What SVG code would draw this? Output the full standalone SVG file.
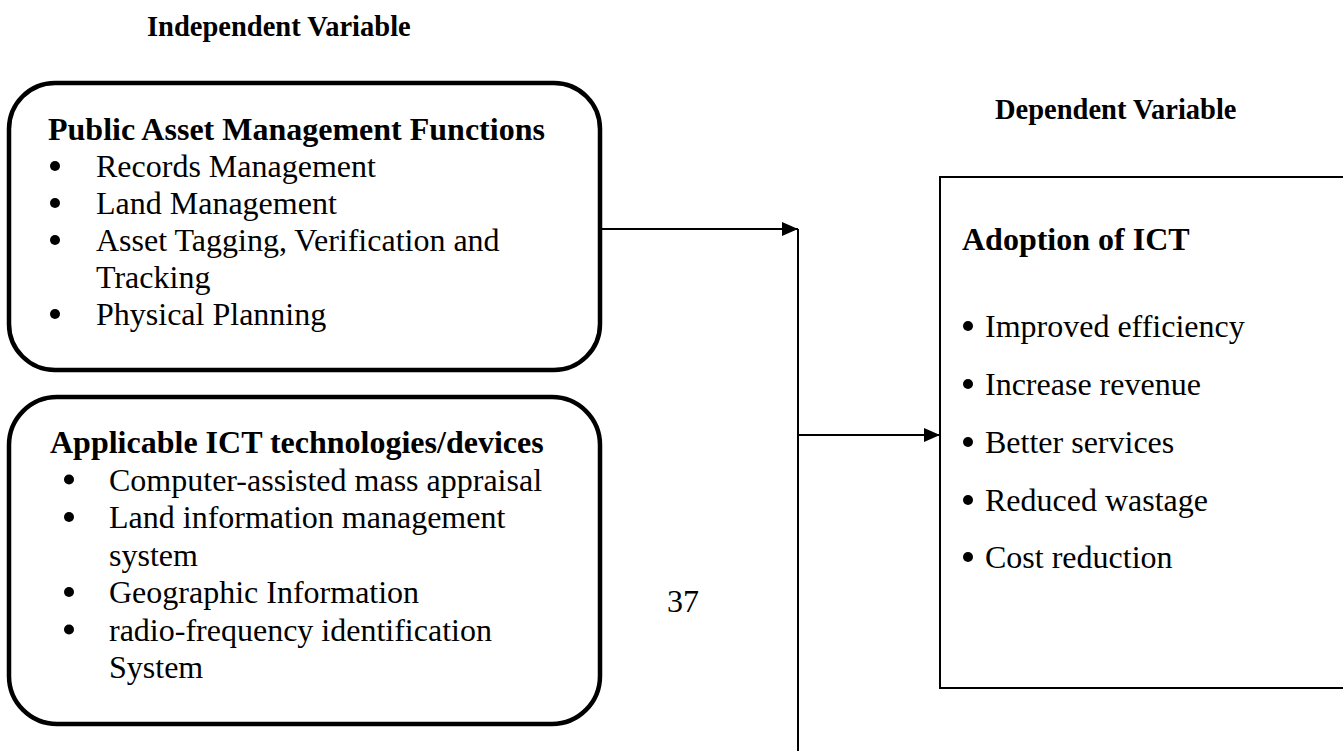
<svg xmlns="http://www.w3.org/2000/svg" width="1343" height="751" viewBox="0 0 1343 751">
<defs>
<style>
text{font-family:"Liberation Serif","Times New Roman",serif;fill:#000}
.h{font-size:28.5px;font-weight:bold}
.t{font-size:32px;font-weight:bold}
.b{font-size:32px}
.dot{fill:#000}
.rbox{fill:#fff;stroke:#000;stroke-width:4.5}
.sbox{fill:#fff;stroke:#000;stroke-width:2}
.ln{stroke:#000;stroke-width:2;fill:none}
</style>
<marker id="ah" viewBox="0 0 16 14" refX="16" refY="7" markerWidth="16" markerHeight="14" markerUnits="userSpaceOnUse" orient="auto">
<path d="M0,0 L16,7 L0,14 Z" fill="#000"/>
</marker>
</defs>
<rect width="1343" height="751" fill="#fff"/>
<text id="lbl-indep" class="h" x="147" y="36">Independent Variable</text>
<text id="lbl-dep" class="h" x="995" y="119">Dependent Variable</text>
<g id="connectors">
<line class="ln" x1="596" y1="229" x2="798" y2="229" marker-end="url(#ah)"/>
<line class="ln" x1="798" y1="229" x2="798" y2="751"/>
<line class="ln" x1="798" y1="435" x2="940" y2="435" marker-end="url(#ah)"/>
</g>
<g id="node-pam">
<rect class="rbox" x="9" y="83" width="591" height="287" rx="46" ry="46"/>
<text class="t" x="48" y="140">Public Asset Management Functions</text>
<circle class="dot" cx="55" cy="166" r="5"/><text class="b" x="96" y="177">Records Management</text>
<circle class="dot" cx="55" cy="203" r="5"/><text class="b" x="96" y="214">Land Management</text>
<circle class="dot" cx="55" cy="240" r="5"/><text class="b" x="96" y="251">Asset Tagging, Verification and</text>
<text class="b" x="96" y="288">Tracking</text>
<circle class="dot" cx="55" cy="314" r="5"/><text class="b" x="96" y="325">Physical Planning</text>
</g>
<g id="node-ict">
<rect class="rbox" x="9" y="397" width="591" height="327" rx="48" ry="48"/>
<text class="t" x="50" y="453">Applicable ICT technologies/devices</text>
<circle class="dot" cx="69" cy="479.5" r="5"/><text class="b" x="109" y="490.5">Computer-assisted mass appraisal</text>
<circle class="dot" cx="69" cy="517" r="5"/><text class="b" x="109" y="528">Land information management</text>
<text class="b" x="109" y="565.5">system</text>
<circle class="dot" cx="69" cy="592" r="5"/><text class="b" x="109" y="603">Geographic Information</text>
<circle class="dot" cx="69" cy="629.5" r="5"/><text class="b" x="109" y="640.5">radio-frequency identification</text>
<text class="b" x="109" y="678">System</text>
</g>
<text id="page-num" class="b" x="667" y="612">37</text>
<g id="node-adoption">
<rect class="sbox" x="940" y="177" width="420" height="511"/>
<text class="t" x="962" y="250">Adoption of ICT</text>
<circle class="dot" cx="968" cy="326" r="5"/><text class="b" x="985" y="337">Improved efficiency</text>
<circle class="dot" cx="968" cy="384" r="5"/><text class="b" x="985" y="395">Increase revenue</text>
<circle class="dot" cx="968" cy="442" r="5"/><text class="b" x="985" y="453">Better services</text>
<circle class="dot" cx="968" cy="500" r="5"/><text class="b" x="985" y="511">Reduced wastage</text>
<circle class="dot" cx="968" cy="557" r="5"/><text class="b" x="985" y="568">Cost reduction</text>
</g>
</svg>
